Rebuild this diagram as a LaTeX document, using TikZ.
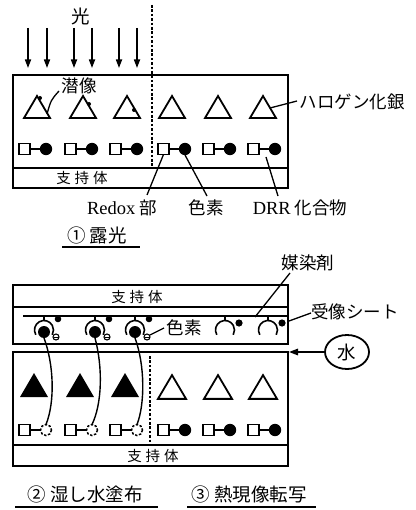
\documentclass[tikz,border=0pt]{standalone}
\usepackage{fontspec}
\setmainfont{Liberation Serif}
\newfontfamily\jp{Noto Sans CJK JP}
\usetikzlibrary{arrows.meta,shapes.geometric}

\tikzset{
  txt/.style={inner sep=0pt, font=\jp\fontsize{17.5}{18}\selectfont},
  smalltxt/.style={inner sep=0pt, font=\jp\fontsize{14.5}{15}\selectfont},
  capt/.style={inner sep=0pt, font=\jp\fontsize{18.5}{19}\selectfont},
  ray/.style={line width=1.6pt, -{Triangle[length=8.5pt,width=6pt]}},
  divider/.style={line width=2.4pt, dash pattern=on 2.6pt off 1.8pt},
  lead/.style={line width=1.3pt},
  sheet/.style={line width=1.8pt},
  uline/.style={line width=1.8pt},
  wick/.style={line width=1.4pt},
  % silver halide grain
  opentri/.pic={\draw[line width=1.8pt, line join=miter] (-13,11) -- (0,-11) -- (13,11) -- cycle;},
  % developed (blackened) grain
  solidtri/.pic={\fill (-14,12) -- (0,-12) -- (14,12) -- cycle;},
  % DRR compound: redox moiety (square) + dye (disc)
  drr/.pic={
    \draw[line width=1.6pt] (0,-5.5) rectangle (11,5.5);
    \draw[line width=1.6pt] (11,0) -- (21,0);
    \fill (27,0) circle (6.2);
    \coordinate (-sq) at (5.5,5.5);
    \coordinate (-dye) at (27,6);
    \coordinate (-mid) at (18,8);
  },
  % DRR compound after the dye has been released
  drrfreed/.pic={
    \draw[line width=1.6pt] (0,-5.5) rectangle (11,5.5);
    \draw[line width=1.6pt] (11,0) -- (21,0);
    \draw[line width=1.5pt, dash pattern=on 2.4pt off 1.6pt] (27,0) circle (5.5);
    \coordinate (-dye) at (27,-5.5);
  },
  % mordant site hanging from the mordant layer
  mordot/.pic={
    \draw[line width=1.6pt] (150:9.5) arc[start angle=150, end angle=390, radius=9.5];
    \draw[line width=1.6pt] (0,-9.5) -- (0,-14);
    \fill (14,-7) circle (3.6);
  },
  % mordant site holding a transferred dye
  mordyed/.pic={
    \draw[line width=1.6pt] (150:9.5) arc[start angle=150, end angle=390, radius=9.5];
    \draw[line width=1.6pt] (0,-9.5) -- (0,-14);
    \fill (0,2) circle (6);
    \fill (14,-11) circle (3.3);
    \draw[line width=1.1pt] (12,7) circle (3);
    \draw[line width=0.9pt] (9.5,7) -- (14.5,7);
    \coordinate (-dye) at (0,8);
    \coordinate (-frag) at (15,5);
  },
}

\begin{document}
\begin{tikzpicture}[x=1pt,y=-1pt]
\useasboundingbox (0,0) rectangle (415,510);

% ---------- step 1: exposure ----------
\node[capt] (light) at (81,16) {光};
\foreach \x [count=\i] in {28,47,74,92,119,137} {
  \coordinate (rt\i) at (\x,28);
  \coordinate (rh\i) at (\x,68);
  \draw[ray] (rt\i) -- (rh\i);
}
\coordinate (dva) at (152,5);
\coordinate (dvb) at (152,166);
\draw[divider] (dva) -- (dvb);

\draw[sheet] (13,75) rectangle (288,188);
\draw[sheet] (13,168) -- (288,168);
\node[smalltxt] (supA) at (82,178) {支\hspace{4pt}持\hspace{4pt}体};

\foreach \x [count=\i] in {37,83,127,172,218,263}
  \pic (ag\i) at (\x,107) {opentri};
% latent image specks
\fill (40,98) circle (2);
\fill (89,104) circle (2);
\fill (134,110) circle (2);

\node[txt] (latent) at (79,86) {潜像};
\coordinate (latA) at (47,114);
\coordinate (latB) at (59,91);
\draw[lead] (latA) .. controls (51,100) .. (latB);

\node[txt] (halide) at (352,102) {ハロゲン化銀};
\coordinate (halA) at (270,108);
\coordinate (halB) at (297,101);
\draw[lead] (halA) -- (halB);

\foreach \x [count=\i] in {19,65,110,158,203,248}
  \pic (d\i) at (\x,149) {drr};

\node[txt] (redox) at (122,208) {{\rmfamily\fontsize{18.5}{19}\selectfont Redox} 部};
\node[txt] (dyelbl) at (206,208) {色素};
\node[txt] (drrlbl) at (300,208) {{\rmfamily\fontsize{18.5}{19}\selectfont DRR} 化合物};
\coordinate (redoxtip) at (147,195);
\coordinate (dyetip) at (207,196);
\coordinate (drrtip) at (278,196);
\draw[lead] (d4-sq) -- (redoxtip);
\draw[lead] (d4-dye) -- (dyetip);
\draw[lead] (d6-mid) -- (drrtip);

\node[capt] (cap1) at (97,235) {① 露光};
\coordinate (u1a) at (62,247);
\coordinate (u1b) at (140,247);
\draw[uline] (u1a) -- (u1b);

% ---------- steps 2 and 3: wetting, heat development and transfer ----------
% image-receiving sheet
\draw[sheet] (13,285) rectangle (288,344);
\draw[sheet] (13,307) -- (288,307);
\node[smalltxt] (supB) at (137,297) {支\hspace{4pt}持\hspace{4pt}体};
\coordinate (mla) at (23,316);
\coordinate (mlb) at (288,316);
\draw[line width=1.5pt] (mla) -- (mlb);

\foreach \x [count=\i] in {44,95,135}
  \pic (m\i) at (\x,330) {mordyed};
\pic (m4) at (225,330) {mordot};
\pic (m5) at (268,330) {mordot};

\node[txt] (dyelbl2) at (184,328) {色素};
\coordinate (dyetip2) at (164,328);
\draw[lead] (m3-frag) -- (dyetip2);

\node[txt] (mordlbl) at (308,263) {媒染剤};
\coordinate (mordA) at (290,273);
\coordinate (mordB) at (255,317);
\draw[lead] (mordA) -- (mordB);

\node[txt] (recvlbl) at (355,312) {受像シート};
\coordinate (recvA) at (289,321);
\coordinate (recvB) at (311,313);
\draw[lead] (recvA) -- (recvB);

\node[draw, ellipse, line width=1.8pt, minimum width=44pt, minimum height=34pt,
      inner sep=0pt, font=\jp\fontsize{18.5}{19}\selectfont] (water) at (347,352) {水};
\coordinate (gap) at (289,352);
\draw[line width=1.5pt, -{Triangle[length=9pt,width=6.5pt]}] (water) -- (gap);

% photosensitive element after development
\draw[sheet] (13,352) rectangle (288,466);
\draw[sheet] (13,445) -- (288,445);
\node[smalltxt] (supC) at (153,456) {支\hspace{4pt}持\hspace{4pt}体};
\coordinate (dvc) at (150,356);
\coordinate (dvd) at (150,443);
\draw[divider] (dvc) -- (dvd);

\foreach \x [count=\i] in {34,80,125}
  \pic (bt\i) at (\x,385) {solidtri};
\foreach \x [count=\i] in {172,218,263}
  \pic[scale=1.08] (wt\i) at (\x,387) {opentri};

\foreach \x [count=\i] in {19,65,110}
  \pic (f\i) at (\x,430) {drrfreed};
\foreach \x [count=\i] in {158,203,248}
  \pic (k\i) at (\x,430) {drr};

% migration paths of the released dyes
\draw[wick] (m1-dye) .. controls (54,365) and (55,402) .. (f1-dye);
\draw[wick] (m2-dye) .. controls (103,368) and (102,404) .. (f2-dye);
\draw[wick] (m3-dye) .. controls (145,365) and (145,404) .. (f3-dye);

\node[capt] (cap2) at (85,494) {② 湿し水塗布};
\coordinate (u2a) at (15,507);
\coordinate (u2b) at (158,507);
\draw[uline] (u2a) -- (u2b);

\node[capt] (cap3) at (249,494) {③ 熱現像転写};
\coordinate (u3a) at (187,507);
\coordinate (u3b) at (316,507);
\draw[uline] (u3a) -- (u3b);
\end{tikzpicture}
\end{document}
